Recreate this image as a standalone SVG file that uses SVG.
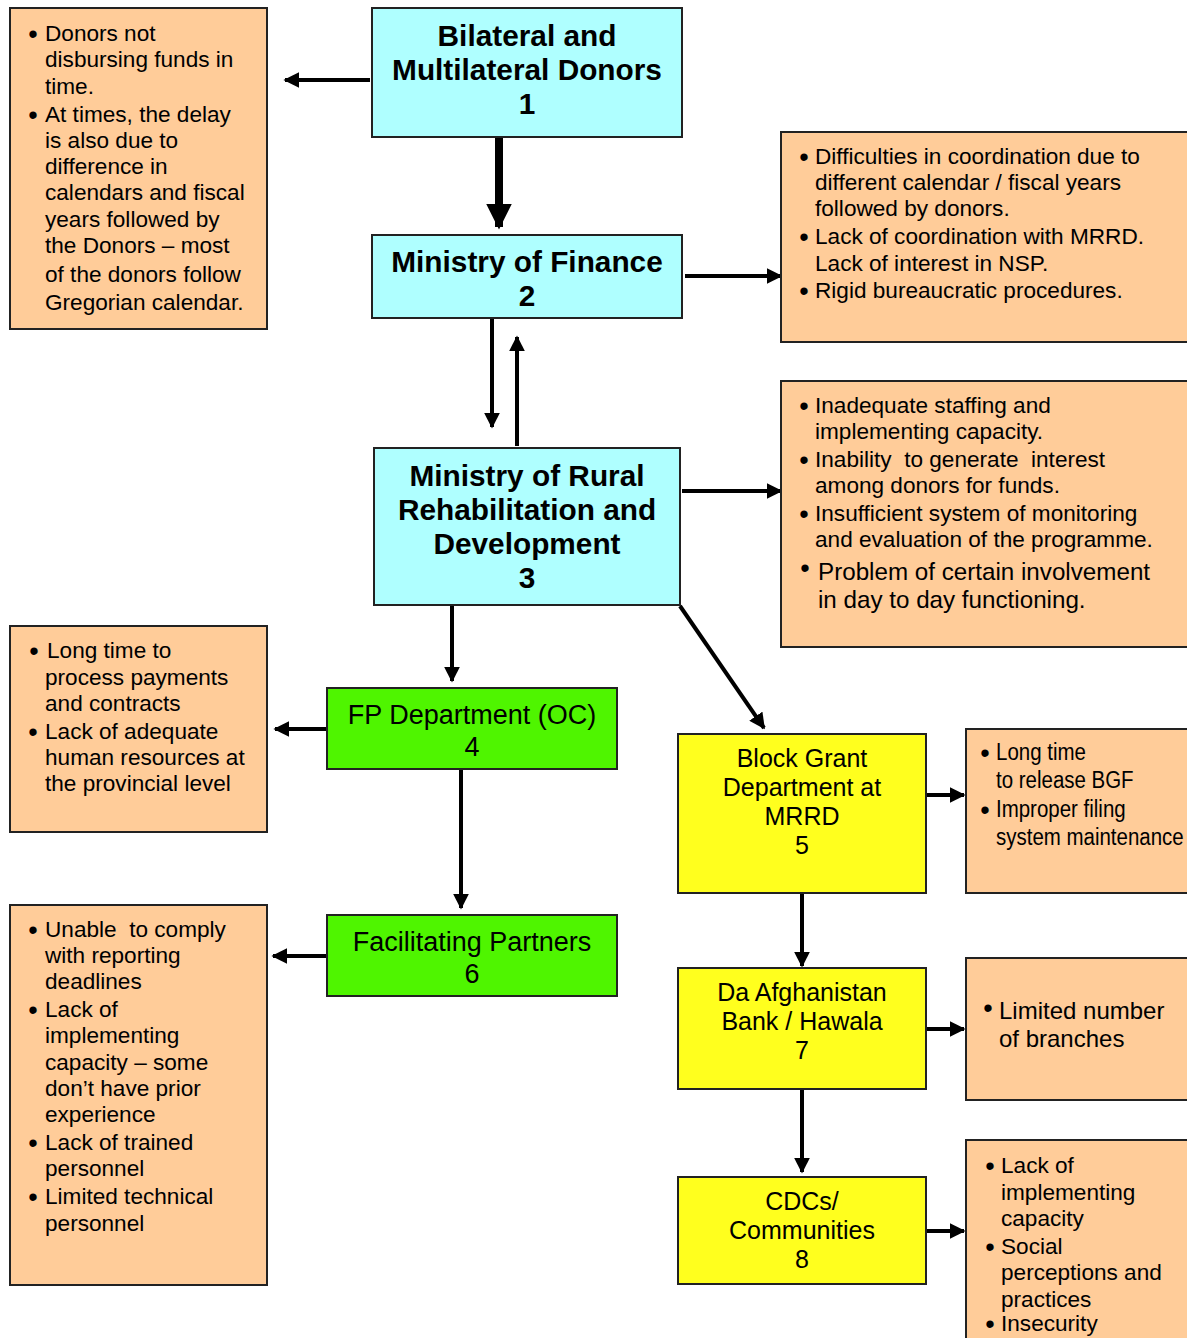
<svg xmlns="http://www.w3.org/2000/svg" width="1187" height="1338" viewBox="0 0 1187 1338">
<style>
.box{stroke:#222;stroke-width:2}
.note{fill:#FFCC99}
.cyan{fill:#AFFFFF}
.green{fill:#4FF500}
.yellow{fill:#FFFF1E}
text{font-family:"Liberation Sans",Arial,sans-serif;fill:#000}
.h{font-size:29.8px;font-weight:bold;text-anchor:middle}
.n{font-size:25px;text-anchor:middle}
.g{font-size:27px}
.t{font-size:22.6px}
.b{font-size:27px;text-anchor:middle}
.c{stroke:#000;fill:none}
</style>
<defs>
<marker id="ah" viewBox="0 0 10 10" refX="9" refY="5" markerWidth="4" markerHeight="4" orient="auto" markerUnits="strokeWidth">
<path d="M0,0 L10,5 L0,10 z" fill="#000"/>
</marker>
<marker id="ahs" viewBox="0 0 10 10" refX="9" refY="5" markerWidth="3.2" markerHeight="3.2" orient="auto" markerUnits="strokeWidth">
<path d="M0,0 L10,5 L0,10 z" fill="#000"/>
</marker>
</defs>

<g id="connectors">
<line class="c" x1="370" y1="80" x2="285" y2="80" stroke-width="4" marker-end="url(#ah)"/>
<line class="c" x1="499" y1="138" x2="499" y2="227" stroke-width="8" marker-end="url(#ahs)"/>
<line class="c" x1="685" y1="276" x2="781" y2="276" stroke-width="4" marker-end="url(#ah)"/>
<line class="c" x1="492" y1="318" x2="492" y2="427" stroke-width="4" marker-end="url(#ah)"/>
<line class="c" x1="517" y1="446" x2="517" y2="337" stroke-width="4" marker-end="url(#ah)"/>
<line class="c" x1="682" y1="491" x2="781" y2="491" stroke-width="4" marker-end="url(#ah)"/>
<line class="c" x1="452" y1="606" x2="452" y2="681" stroke-width="4" marker-end="url(#ah)"/>
<line class="c" x1="680" y1="606" x2="764" y2="728" stroke-width="4" marker-end="url(#ah)"/>
<line class="c" x1="326" y1="729" x2="275" y2="729" stroke-width="4" marker-end="url(#ah)"/>
<line class="c" x1="461" y1="770" x2="461" y2="908" stroke-width="4" marker-end="url(#ah)"/>
<line class="c" x1="927" y1="795" x2="964" y2="795" stroke-width="4" marker-end="url(#ah)"/>
<line class="c" x1="802" y1="894" x2="802" y2="966" stroke-width="4" marker-end="url(#ah)"/>
<line class="c" x1="326" y1="956" x2="273" y2="956" stroke-width="4" marker-end="url(#ah)"/>
<line class="c" x1="927" y1="1029" x2="964" y2="1029" stroke-width="4" marker-end="url(#ah)"/>
<line class="c" x1="802" y1="1090" x2="802" y2="1172" stroke-width="4" marker-end="url(#ah)"/>
<line class="c" x1="927" y1="1231" x2="964" y2="1231" stroke-width="4" marker-end="url(#ah)"/>
</g>

<g id="node1">
<rect class="box cyan" x="372" y="8" width="310" height="129"/>
<text class="h" x="527" y="46">Bilateral and</text>
<text class="h" x="527" y="80">Multilateral Donors</text>
<text class="h" x="527" y="114">1</text>
</g>
<g id="node2">
<rect class="box cyan" x="372" y="235" width="310" height="83"/>
<text class="h" x="527" y="272">Ministry of Finance</text>
<text class="h" x="527" y="306">2</text>
</g>
<g id="node3">
<rect class="box cyan" x="374" y="448" width="306" height="157"/>
<text class="h" x="527" y="486">Ministry of Rural</text>
<text class="h" x="527" y="520">Rehabilitation and</text>
<text class="h" x="527" y="554">Development</text>
<text class="h" x="527" y="588">3</text>
</g>
<g id="node4">
<rect class="box green" x="327" y="688" width="290" height="81"/>
<text class="n g" x="472" y="724">FP Department (OC)</text>
<text class="n g" x="472" y="756">4</text>
</g>
<g id="node5">
<rect class="box yellow" x="678" y="734" width="248" height="159"/>
<text class="n" x="802" y="767">Block Grant</text>
<text class="n" x="802" y="796">Department at</text>
<text class="n" x="802" y="825">MRRD</text>
<text class="n" x="802" y="854">5</text>
</g>
<g id="node6">
<rect class="box green" x="327" y="915" width="290" height="81"/>
<text class="n g" x="472" y="951">Facilitating Partners</text>
<text class="n g" x="472" y="983">6</text>
</g>
<g id="node7">
<rect class="box yellow" x="678" y="968" width="248" height="121"/>
<text class="n" x="802" y="1001">Da Afghanistan</text>
<text class="n" x="802" y="1030">Bank / Hawala</text>
<text class="n" x="802" y="1059">7</text>
</g>
<g id="node8">
<rect class="box yellow" x="678" y="1177" width="248" height="107"/>
<text class="n" x="802" y="1210">CDCs/</text>
<text class="n" x="802" y="1239">Communities</text>
<text class="n" x="802" y="1268">8</text>
</g>

<g id="note1">
<rect class="box note" x="10" y="8" width="257" height="321"/>
<text class="b" x="33" y="43">•</text>
<text class="t" x="45" y="41">Donors not</text>
<text class="t" x="45" y="67">disbursing funds in</text>
<text class="t" x="45" y="94">time.</text>
<text class="b" x="33" y="124">•</text>
<text class="t" x="45" y="122">At times, the delay</text>
<text class="t" x="45" y="148">is also due to</text>
<text class="t" x="45" y="174">difference in</text>
<text class="t" x="45" y="200">calendars and fiscal</text>
<text class="t" x="45" y="227">years followed by</text>
<text class="t" x="45" y="253">the Donors – most</text>
<text class="t" x="45" y="282">of the donors follow</text>
<text class="t" x="45" y="310">Gregorian calendar.</text>
</g>
<g id="note2">
<rect class="box note" x="781" y="132" width="410" height="210"/>
<text class="b" x="804" y="166">•</text>
<text class="t" x="815" y="164">Difficulties in coordination due to</text>
<text class="t" x="815" y="190">different calendar / fiscal years</text>
<text class="t" x="815" y="216">followed by donors.</text>
<text class="b" x="804" y="246">•</text>
<text class="t" x="815" y="244">Lack of coordination with MRRD.</text>
<text class="t" x="815" y="271">Lack of interest in NSP.</text>
<text class="b" x="804" y="300">•</text>
<text class="t" x="815" y="298">Rigid bureaucratic procedures.</text>
</g>
<g id="note3">
<rect class="box note" x="781" y="381" width="410" height="266"/>
<text class="b" x="804" y="415">•</text>
<text class="t" x="815" y="413">Inadequate staffing and</text>
<text class="t" x="815" y="439">implementing capacity.</text>
<text class="b" x="804" y="469">•</text>
<text class="t" x="815" y="467" xml:space="preserve">Inability  to generate  interest</text>
<text class="t" x="815" y="493">among donors for funds.</text>
<text class="b" x="804" y="523">•</text>
<text class="t" x="815" y="521">Insufficient system of monitoring</text>
<text class="t" x="815" y="547">and evaluation of the programme.</text>
<text class="b" x="805" y="577">•</text>
<text class="t" x="818" y="580" style="font-size:24.2px">Problem of certain involvement</text>
<text class="t" x="818" y="608" style="font-size:24.2px">in day to day functioning.</text>
</g>
<g id="note4">
<rect class="box note" x="10" y="626" width="257" height="206"/>
<text class="b" x="34" y="660">•</text>
<text class="t" x="47" y="658">Long time to</text>
<text class="t" x="45" y="685">process payments</text>
<text class="t" x="45" y="711">and contracts</text>
<text class="b" x="33" y="741">•</text>
<text class="t" x="45" y="739">Lack of adequate</text>
<text class="t" x="45" y="765">human resources at</text>
<text class="t" x="45" y="791">the provincial level</text>
</g>
<g id="note5">
<rect class="box note" x="966" y="729" width="225" height="164"/>
<text class="b" x="985" y="762">•</text>
<text class="b" x="985" y="819">•</text>
<g transform="translate(996,0) scale(0.89,1)">
<text class="t" x="0" y="760" style="font-size:23px">Long time</text>
<text class="t" x="0" y="788" style="font-size:23px">to release BGF</text>
<text class="t" x="0" y="817" style="font-size:23px">Improper filing</text>
<text class="t" x="0" y="845" style="font-size:23px">system maintenance</text>
</g>
</g>
<g id="note6">
<rect class="box note" x="10" y="905" width="257" height="380"/>
<text class="b" x="33" y="939">•</text>
<text class="t" x="45" y="937" xml:space="preserve">Unable  to comply</text>
<text class="t" x="45" y="963">with reporting</text>
<text class="t" x="45" y="989">deadlines</text>
<text class="b" x="33" y="1019">•</text>
<text class="t" x="45" y="1017">Lack of</text>
<text class="t" x="45" y="1043">implementing</text>
<text class="t" x="45" y="1070">capacity – some</text>
<text class="t" x="45" y="1096">don’t have prior</text>
<text class="t" x="45" y="1122">experience</text>
<text class="b" x="33" y="1152">•</text>
<text class="t" x="45" y="1150">Lack of trained</text>
<text class="t" x="45" y="1176">personnel</text>
<text class="b" x="33" y="1206">•</text>
<text class="t" x="45" y="1204">Limited technical</text>
<text class="t" x="45" y="1231">personnel</text>
</g>
<g id="note7">
<rect class="box note" x="966" y="958" width="225" height="142"/>
<text class="b" x="988" y="1017">•</text>
<text class="t" x="999" y="1019" style="font-size:24px">Limited number</text>
<text class="t" x="999" y="1047" style="font-size:24px">of branches</text>
</g>
<g id="note8">
<rect class="box note" x="966" y="1140" width="225" height="210"/>
<text class="b" x="990" y="1175">•</text>
<text class="t" x="1001" y="1173">Lack of</text>
<text class="t" x="1001" y="1200">implementing</text>
<text class="t" x="1001" y="1226">capacity</text>
<text class="b" x="990" y="1256">•</text>
<text class="t" x="1001" y="1254">Social</text>
<text class="t" x="1001" y="1280">perceptions and</text>
<text class="t" x="1001" y="1307">practices</text>
<text class="b" x="990" y="1333">•</text>
<text class="t" x="1001" y="1331">Insecurity</text>
</g>
</svg>
